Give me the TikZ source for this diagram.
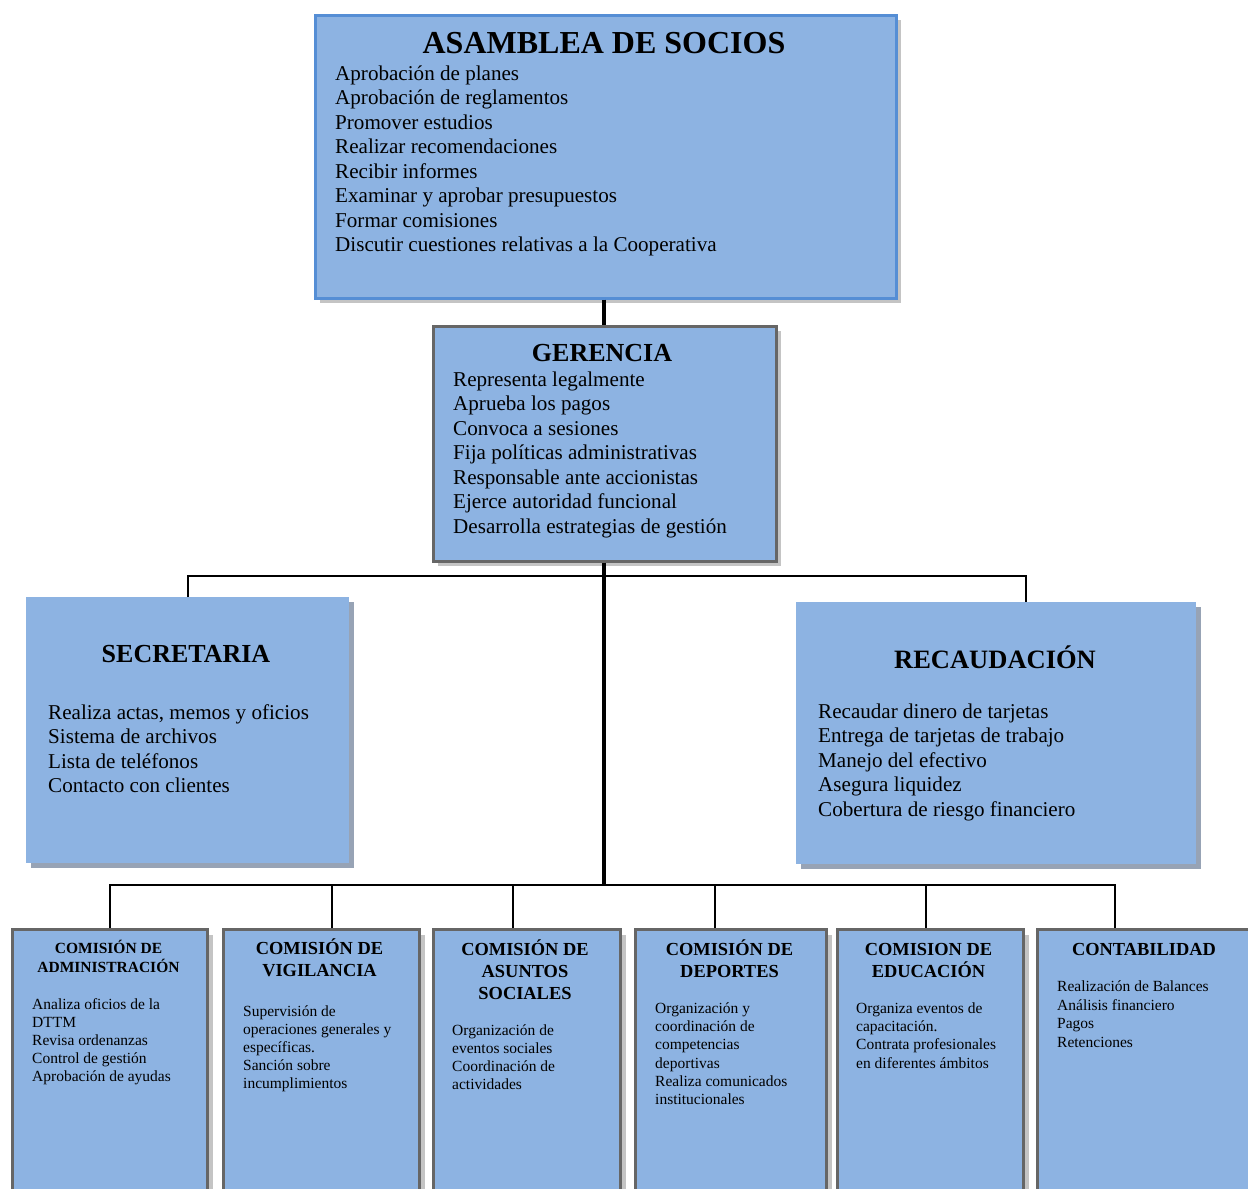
\documentclass[tikz,border=0pt]{standalone}
\usepackage{fontspec}
\setmainfont{Liberation Serif}[BoldFont={Liberation Serif Bold}]
\usetikzlibrary{shadows}

\definecolor{boxfill}{HTML}{8DB3E2}
\definecolor{blueedge}{HTML}{558ED5}
\definecolor{grayedge}{HTML}{666666}
\definecolor{shadowlight}{HTML}{C4C4C4}
\definecolor{shadowblue}{HTML}{97A3B5}

\newcommand\fsz[2]{\fontsize{#1}{#2}\selectfont}
\newcommand\linesL[1]{\begin{tabular}[t]{@{}l@{}}#1\end{tabular}}
\newcommand\linesC[1]{\begin{tabular}[t]{@{}c@{}}#1\end{tabular}}

\tikzset{
  unit/.style={rectangle, anchor=north west, inner sep=0pt, fill=boxfill},
  lightshadow/.style={drop shadow={shadow xshift=5pt, shadow yshift=-5pt, fill=shadowlight, opacity=1}},
  blueshadow/.style={drop shadow={shadow xshift=5pt, shadow yshift=-5pt, fill=shadowblue, opacity=1}},
  topunit/.style={unit, draw=blueedge, line width=2.5pt, lightshadow},
  grayunit/.style={unit, draw=grayedge, line width=2.5pt, lightshadow},
  flatunit/.style={unit, draw=none, blueshadow},
  commission/.style={unit, draw=grayedge, line width=3pt, lightshadow},
  txt/.style={inner sep=0pt, anchor=base west},
  ttl/.style={inner sep=0pt, anchor=base, font=\bfseries},
  trunk/.style={line width=4pt},
  branch/.style={line width=2pt},
}

\begin{document}
\begin{tikzpicture}[x=1pt, y=-1pt]
\clip (0,0) rectangle (1248,1189);
\fill[white] (0,0) rectangle (1248,1189);

% ---- boxes ----
\node[topunit, minimum width=581pt, minimum height=283pt] (asam) at (314,14) {};
\node[grayunit, minimum width=343pt, minimum height=235pt] (ger) at (432,325) {};
\node[flatunit, minimum width=323pt, minimum height=266pt] (sec) at (26,597) {};
\node[flatunit, minimum width=400pt, minimum height=262pt] (rec) at (796,602) {};

\node[commission, minimum width=195pt, minimum height=300pt] (b1) at (11,928) {};
\node[commission, minimum width=196pt, minimum height=300pt] (b2) at (222,928) {};
\node[commission, minimum width=187pt, minimum height=300pt] (b3) at (432,928) {};
\node[commission, minimum width=191pt, minimum height=300pt] (b4) at (634,928) {};
\node[commission, minimum width=186pt, minimum height=300pt] (b5) at (836,928) {};
\node[commission, minimum width=240pt, minimum height=300pt] (b6) at (1036,928) {};

% ---- connectors ----
\coordinate (busA) at (604,576);
\coordinate (busB) at (604,885);
\draw[trunk] (asam.south -| busA) -- (ger.north -| busA);
\draw[trunk] (ger.south -| busB) -- (busB);
\draw[branch] (sec.north) |- (busA) -| ([xshift=30pt]rec.north);
\draw[branch] ([xshift=99pt]b1.north west) |- (busB) -| ([xshift=79pt]b6.north west);
\draw[branch] ([xshift=110pt]b2.north west) -- ([xshift=110pt]b2.north west |- busB);
\draw[branch] ([xshift=81pt]b3.north west) -- ([xshift=81pt]b3.north west |- busB);
\draw[branch] ([xshift=81pt]b4.north west) -- ([xshift=81pt]b4.north west |- busB);
\draw[branch] ([xshift=90pt]b5.north west) -- ([xshift=90pt]b5.north west |- busB);

% ---- ASAMBLEA ----
\node[ttl, font=\bfseries\fsz{32}{36}] (asamT) at (604,53) {ASAMBLEA DE SOCIOS};
\node[txt, font=\fsz{21.1}{24.5}] (asamL) at (335,80) {\linesL{%
Aprobación de planes\\
Aprobación de reglamentos\\
Promover estudios\\
Realizar recomendaciones\\
Recibir informes\\
Examinar y aprobar presupuestos\\
Formar comisiones\\
Discutir cuestiones relativas a la Cooperativa}};

% ---- GERENCIA ----
\node[ttl, font=\bfseries\fsz{26}{30}] (gerT) at (602,361) {GERENCIA};
\node[txt, font=\fsz{21.1}{24.5}] (gerL) at (453,386) {\linesL{%
Representa legalmente\\
Aprueba los pagos\\
Convoca a sesiones\\
Fija políticas administrativas\\
Responsable ante accionistas\\
Ejerce autoridad funcional\\
Desarrolla estrategias de gestión}};

% ---- SECRETARIA ----
\node[ttl, font=\bfseries\fsz{26}{30}] (secT) at (186,662) {SECRETARIA};
\node[txt, font=\fsz{21.1}{24.5}] (secL) at (48,719) {\linesL{%
Realiza actas, memos y oficios\\
Sistema de archivos\\
Lista de teléfonos\\
Contacto con clientes}};

% ---- RECAUDACION ----
\node[ttl, font=\bfseries\fsz{26.5}{30}] (recT) at (995,668) {RECAUDACIÓN};
\node[txt, font=\fsz{21.1}{24.5}] (recL) at (818,718) {\linesL{%
Recaudar dinero de tarjetas\\
Entrega de tarjetas de trabajo\\
Manejo del efectivo\\
Asegura liquidez\\
Cobertura de riesgo financiero}};

% ---- commissions ----
\node[ttl, font=\bfseries\fsz{15.5}{19}] (b1T) at (108.5,953) {\linesC{COMISIÓN DE\\ADMINISTRACIÓN}};
\node[txt, font=\fsz{15.5}{18.2}] (b1L) at (32,1009) {\linesL{%
Analiza oficios de la\\
DTTM\\
Revisa ordenanzas\\
Control de gestión\\
Aprobación de ayudas}};

\node[ttl, font=\bfseries\fsz{18.4}{22.3}] (b2T) at (319.5,954.5) {\linesC{COMISIÓN DE\\VIGILANCIA}};
\node[txt, font=\fsz{15.5}{18}] (b2L) at (243,1016.5) {\linesL{%
Supervisión de\\
operaciones generales y\\
específicas.\\
Sanción sobre\\
incumplimientos}};

\node[ttl, font=\bfseries\fsz{18.4}{22.1}] (b3T) at (525,955) {\linesC{COMISIÓN DE\\ASUNTOS\\SOCIALES}};
\node[txt, font=\fsz{15.5}{18.3}] (b3L) at (452,1035) {\linesL{%
Organización de\\
eventos sociales\\
Coordinación de\\
actividades}};

\node[ttl, font=\bfseries\fsz{18.4}{22.3}] (b4T) at (729.5,955) {\linesC{COMISIÓN DE\\DEPORTES}};
\node[txt, font=\fsz{15.5}{18.3}] (b4L) at (655,1013.3) {\linesL{%
Organización y\\
coordinación de\\
competencias\\
deportivas\\
Realiza comunicados\\
institucionales}};

\node[ttl, font=\bfseries\fsz{18.4}{22.3}] (b5T) at (928.5,955) {\linesC{COMISION DE\\EDUCACIÓN}};
\node[txt, font=\fsz{15.5}{18.3}] (b5L) at (856,1013.3) {\linesL{%
Organiza eventos de\\
capacitación.\\
Contrata profesionales\\
en diferentes ámbitos}};

\node[ttl, font=\bfseries\fsz{18.4}{22.3}] (b6T) at (1144,955) {CONTABILIDAD};
\node[txt, font=\fsz{15.5}{18.5}] (b6L) at (1057,991.7) {\linesL{%
Realización de Balances\\
Análisis financiero\\
Pagos\\
Retenciones}};
\end{tikzpicture}
\end{document}
